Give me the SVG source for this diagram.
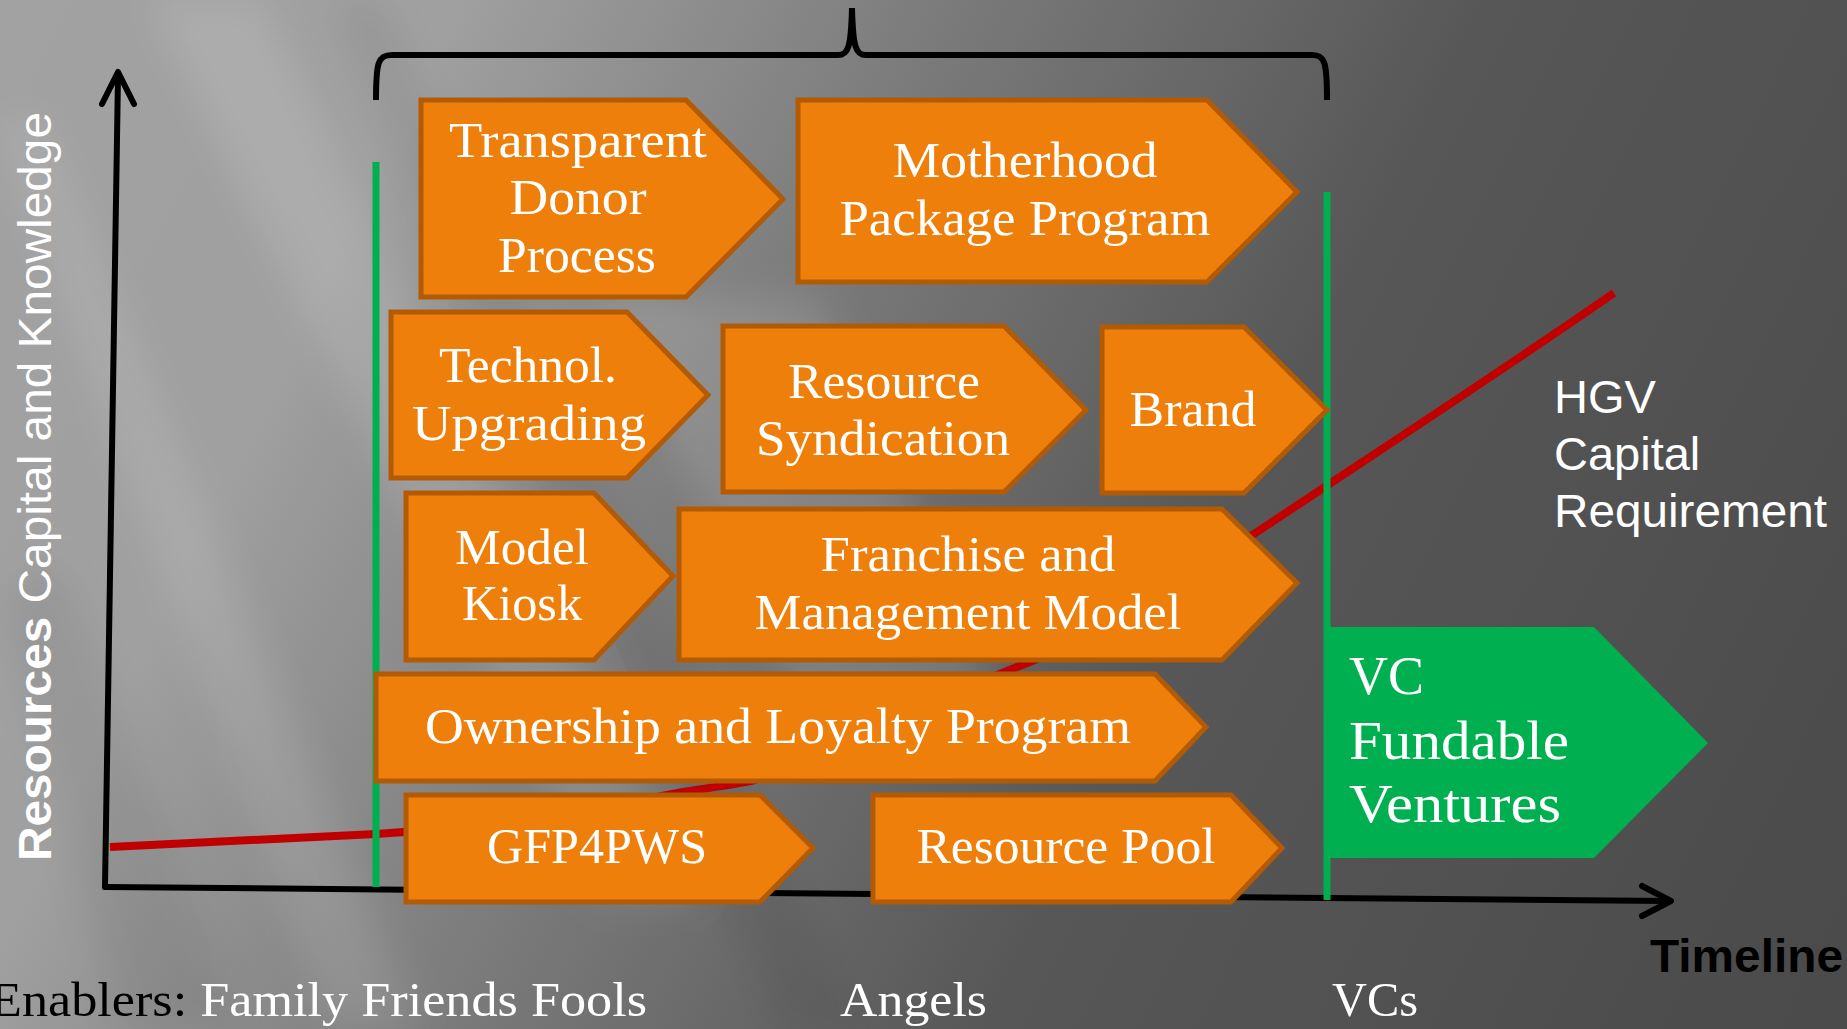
<svg xmlns="http://www.w3.org/2000/svg" width="1847" height="1029" viewBox="0 0 1847 1029">
<defs>
<linearGradient id="bg" x1="0" y1="0" x2="1847" y2="900" gradientUnits="userSpaceOnUse">
<stop offset="0" stop-color="#a2a2a2"/>
<stop offset="0.2" stop-color="#a0a0a0"/>
<stop offset="0.42" stop-color="#7a7a7a"/>
<stop offset="0.65" stop-color="#575757"/>
<stop offset="1" stop-color="#4b4b4b"/>
</linearGradient>
<filter id="blur" x="-20%" y="-20%" width="140%" height="140%"><feGaussianBlur stdDeviation="18"/></filter>
<style>
.box{fill:#ef7f0b;stroke:#b35a05;stroke-width:5;stroke-linejoin:miter}
.bt{font-family:"Liberation Serif",serif;font-size:50px;fill:#ffffff;text-anchor:middle}
.axis{fill:none;stroke:#000;stroke-width:6;stroke-linecap:round;stroke-linejoin:round}
.gl{stroke:#00b050;stroke-width:7}
.sans{font-family:"Liberation Sans",Arial,sans-serif;font-size:47px;fill:#ffffff}
.bot{font-family:"Liberation Serif",serif;font-size:49px;fill:#ffffff}
</style>
</defs>
<rect width="1847" height="1029" fill="url(#bg)"/>
<g filter="url(#blur)">
<polygon points="150,0 260,0 700,900 600,900" fill="#ffffff" opacity="0.12"/>
<polygon points="0,120 40,120 420,1029 330,1029" fill="#ffffff" opacity="0.10"/>
<polygon points="330,0 380,0 860,1029 780,1029" fill="#000000" opacity="0.06"/>
<polygon points="600,300 820,300 1000,700 800,700" fill="#ffffff" opacity="0.12"/>
<polygon points="0,600 60,560 240,1029 120,1029" fill="#000000" opacity="0.06"/>
</g>

<g id="axes">
<path class="axis" d="M105,887 L118,76"/>
<path class="axis" d="M102,104 L118,72 L134,104"/>
<path class="axis" d="M105,887 L1668,901"/>
<path class="axis" d="M1642,886 L1671,901 L1642,916"/>
</g>

<g id="connectors">
<path d="M110,847 L376,834 C500,826 600,808 683,792 C720,786 740,784 755,780 C840,748 930,703 1007,671 C1017,667 1027,663 1037,659 C1110,620 1180,575 1254,534 C1380,450 1500,372 1614,293" fill="none" stroke="#c00000" stroke-width="8"/>
<path d="M376,100 C376,62 378,55 392,55 L838,55 C848,55 851,48 852,8 C853,48 856,55 866,55 L1312,55 C1325,55 1327,62 1327,100" fill="none" stroke="#000" stroke-width="6"/>
<line class="gl" x1="376" y1="162" x2="376" y2="887"/>
<line class="gl" x1="1327" y1="192" x2="1327" y2="900"/>
</g>

<g id="n1"><polygon class="box" points="421,100 686,100 783,199 686,297 421,297"/>
<text class="bt" x="578" y="157" textLength="258" lengthAdjust="spacingAndGlyphs">Transparent</text><text class="bt" x="578" y="214" textLength="137" lengthAdjust="spacingAndGlyphs">Donor</text><text class="bt" x="577" y="272" textLength="158" lengthAdjust="spacingAndGlyphs">Process</text></g>
<g id="n2"><polygon class="box" points="798,100 1207,100 1297,192 1207,282 798,282"/>
<text class="bt" x="1025" y="177" textLength="265" lengthAdjust="spacingAndGlyphs">Motherhood</text><text class="bt" x="1025" y="235" textLength="371" lengthAdjust="spacingAndGlyphs">Package Program</text></g>
<g id="n3"><polygon class="box" points="391,312 627,312 708,395 627,478 391,478"/>
<text class="bt" x="528" y="382" textLength="178" lengthAdjust="spacingAndGlyphs">Technol.</text><text class="bt" x="529" y="440" textLength="234" lengthAdjust="spacingAndGlyphs">Upgrading</text></g>
<g id="n4"><polygon class="box" points="723,326 1004,326 1086,410 1004,492 723,492"/>
<text class="bt" x="884" y="398" textLength="192" lengthAdjust="spacingAndGlyphs">Resource</text><text class="bt" x="883" y="455" textLength="254" lengthAdjust="spacingAndGlyphs">Syndication</text></g>
<g id="n5"><polygon class="box" points="1102,327 1244,327 1327,410 1244,493 1102,493"/>
<text class="bt" x="1193" y="426" textLength="127" lengthAdjust="spacingAndGlyphs">Brand</text></g>
<g id="n6"><polygon class="box" points="406,493 594,493 673,576 594,660 406,660"/>
<text class="bt" x="522" y="564" textLength="134" lengthAdjust="spacingAndGlyphs">Model</text><text class="bt" x="522" y="620" textLength="120" lengthAdjust="spacingAndGlyphs">Kiosk</text></g>
<g id="n7"><polygon class="box" points="679,509 1222,509 1297,583 1222,660 679,660"/>
<text class="bt" x="968" y="571" textLength="295" lengthAdjust="spacingAndGlyphs">Franchise and</text><text class="bt" x="968" y="629" textLength="427" lengthAdjust="spacingAndGlyphs">Management Model</text></g>
<g id="n8"><polygon class="box" points="376,674 1155,674 1206,727 1155,781 376,781"/>
<text class="bt" x="778" y="743" textLength="706" lengthAdjust="spacingAndGlyphs">Ownership and Loyalty Program</text></g>
<g id="n9"><polygon class="box" points="406,795 760,795 813,848 760,902 406,902"/>
<text class="bt" x="597" y="863" textLength="220" lengthAdjust="spacingAndGlyphs">GFP4PWS</text></g>
<g id="n10"><polygon class="box" points="873,795 1231,795 1282,848 1231,902 873,902"/>
<text class="bt" x="1066" y="863" textLength="299" lengthAdjust="spacingAndGlyphs">Resource Pool</text></g>
<g id="n11"><polygon points="1327,627 1594,627 1708,743 1594,858 1327,858" fill="#00b050"/>
<text class="bt" style="text-anchor:start;font-size:54px" x="1349" y="694" textLength="75" lengthAdjust="spacingAndGlyphs">VC</text>
<text class="bt" style="text-anchor:start;font-size:54px" x="1349" y="759" textLength="220" lengthAdjust="spacingAndGlyphs">Fundable</text>
<text class="bt" style="text-anchor:start;font-size:54px" x="1349" y="822" textLength="212" lengthAdjust="spacingAndGlyphs">Ventures</text></g>

<g id="labels">
<text class="sans" x="1554" y="413">HGV</text>
<text class="sans" x="1554" y="470">Capital</text>
<text class="sans" x="1554" y="527" textLength="273" lengthAdjust="spacingAndGlyphs">Requirement</text>
<text class="sans" transform="translate(51,861) rotate(-90)" textLength="749" lengthAdjust="spacingAndGlyphs"><tspan font-weight="bold">Resources</tspan> Capital and Knowledge</text>
<text class="sans" x="1650" y="972" style="fill:#000;font-weight:bold" textLength="193" lengthAdjust="spacingAndGlyphs">Timeline</text>
<text class="bot" x="-10" y="1016" textLength="657" lengthAdjust="spacingAndGlyphs"><tspan fill="#000">Enablers:</tspan> Family Friends Fools</text>
<text class="bot" x="840" y="1016" textLength="147" lengthAdjust="spacingAndGlyphs">Angels</text>
<text class="bot" x="1332" y="1016" textLength="86" lengthAdjust="spacingAndGlyphs">VCs</text>
</g>
</svg>
